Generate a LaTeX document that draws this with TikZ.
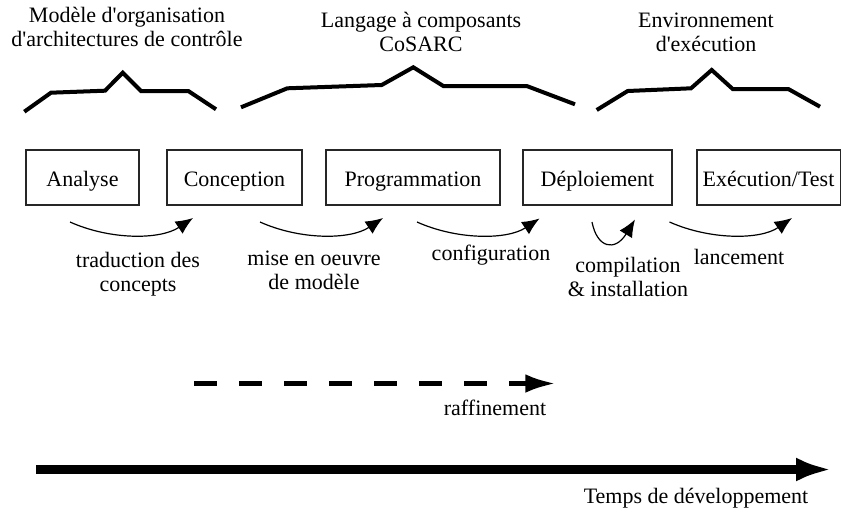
\documentclass[tikz,border=0pt]{standalone}
\usepackage{fontspec}
\setmainfont{Liberation Serif}
\usetikzlibrary{arrows.meta}
\newcommand{\sq}{\textquotesingle}
\begin{document}
\begin{tikzpicture}[x=0.75pt,y=-0.75pt,
  every node/.style={font=\fontsize{16.5}{18}\selectfont, inner sep=0pt, align=center},
  phase/.style={draw=black!85, line width=0.8pt},
  phase label/.style={anchor=base},
  brace/.style={line width=3pt, line join=miter},
  step arrow/.style={line width=0.9pt, -{Latex[length=13pt,width=11pt]}},
  refine/.style={line width=3.75pt, dash pattern=on 17pt off 16.8pt, -{Latex[length=23pt,width=14pt]}},
  timeline/.style={line width=6.75pt, -{Latex[length=27pt,width=18pt]}}]
\useasboundingbox (0,0) rectangle (841,511);

% top labels
\node (lmod) at (127,27) {Modèle d\sq organisation\\d\sq architectures de contrôle};
\node (llang) at (421,32) {Langage à composants\\CoSARC};
\node (lenv) at (706,32) {Environnement\\d\sq exécution};

% braces
\draw[brace] (24.3,111.7) -- (51,92.7) -- (105,90.7) -- (122.7,72.7) -- (141,91) -- (188.3,91) -- (216,109.3);
\draw[brace] (241,107.3) -- (287.3,88.3) -- (381.7,85) -- (413.3,67.3) -- (443.3,86) -- (526.7,86) -- (575,104.3);
\draw[brace] (596.7,110) -- (627.7,91) -- (691,88.3) -- (711.7,70) -- (732.7,89) -- (788.3,89) -- (820,106.7);

% phases
\draw[phase] (26,150) rectangle (139,205);
\node[phase label] (ana) at (82.5,186) {Analyse};
\draw[phase] (167,150) rectangle (302,205);
\node[phase label] (con) at (234.5,186) {Conception};
\draw[phase] (326,150) rectangle (500,205);
\node[phase label] (pro) at (413,186) {Programmation};
\draw[phase] (523,150) rectangle (672,205);
\node[phase label] (dep) at (597.5,186) {Déploiement};
\draw[phase] (697,150) -- (840.6,150) -- (840.6,205) -- (697,205) -- cycle;
\node[phase label] (exe) at (768.5,186) {Exécution/Test};

% transitions
\coordinate (a1s) at (70,222);   \coordinate (a1e) at (193,218);
\coordinate (a2s) at (260,222);  \coordinate (a2e) at (383,218);
\coordinate (a3s) at (417,222);  \coordinate (a3e) at (539.5,218.5);
\coordinate (a4s) at (592,222);  \coordinate (a4e) at (635,219.5);
\coordinate (a5s) at (669.5,222);\coordinate (a5e) at (792,218);
\draw[step arrow] (a1s) .. controls (110,240) and (160,240) .. (a1e);
\draw[step arrow] (a2s) .. controls (300,240) and (350,240) .. (a2e);
\draw[step arrow] (a3s) .. controls (457,240) and (507,240) .. (a3e);
\draw[step arrow] (a4s) .. controls (597,248) and (615,252) .. (a4e);
\draw[step arrow] (a5s) .. controls (710,240) and (760,240) .. (a5e);

\node (t1) at (138,274) {traduction des\\concepts};
\node (t2) at (314,270) {mise en oeuvre\\de modèle};
\node (t3) at (491,255) {configuration};
\node (t4) at (628,277) {compilation\\\& installation};
\node (t5) at (739,257) {lancement};

% refinement
\coordinate (rs) at (194,383.5);
\coordinate (re) at (556,383.5);
\draw[refine] (rs) -- (re);
\node (rl) at (495,408) {raffinement};

% development time
\coordinate (ts) at (36,469.5);
\coordinate (te) at (832,469.5);
\draw[timeline] (ts) -- (te);
\node (tl) at (696,498) {Temps de développement};
\end{tikzpicture}
\end{document}
